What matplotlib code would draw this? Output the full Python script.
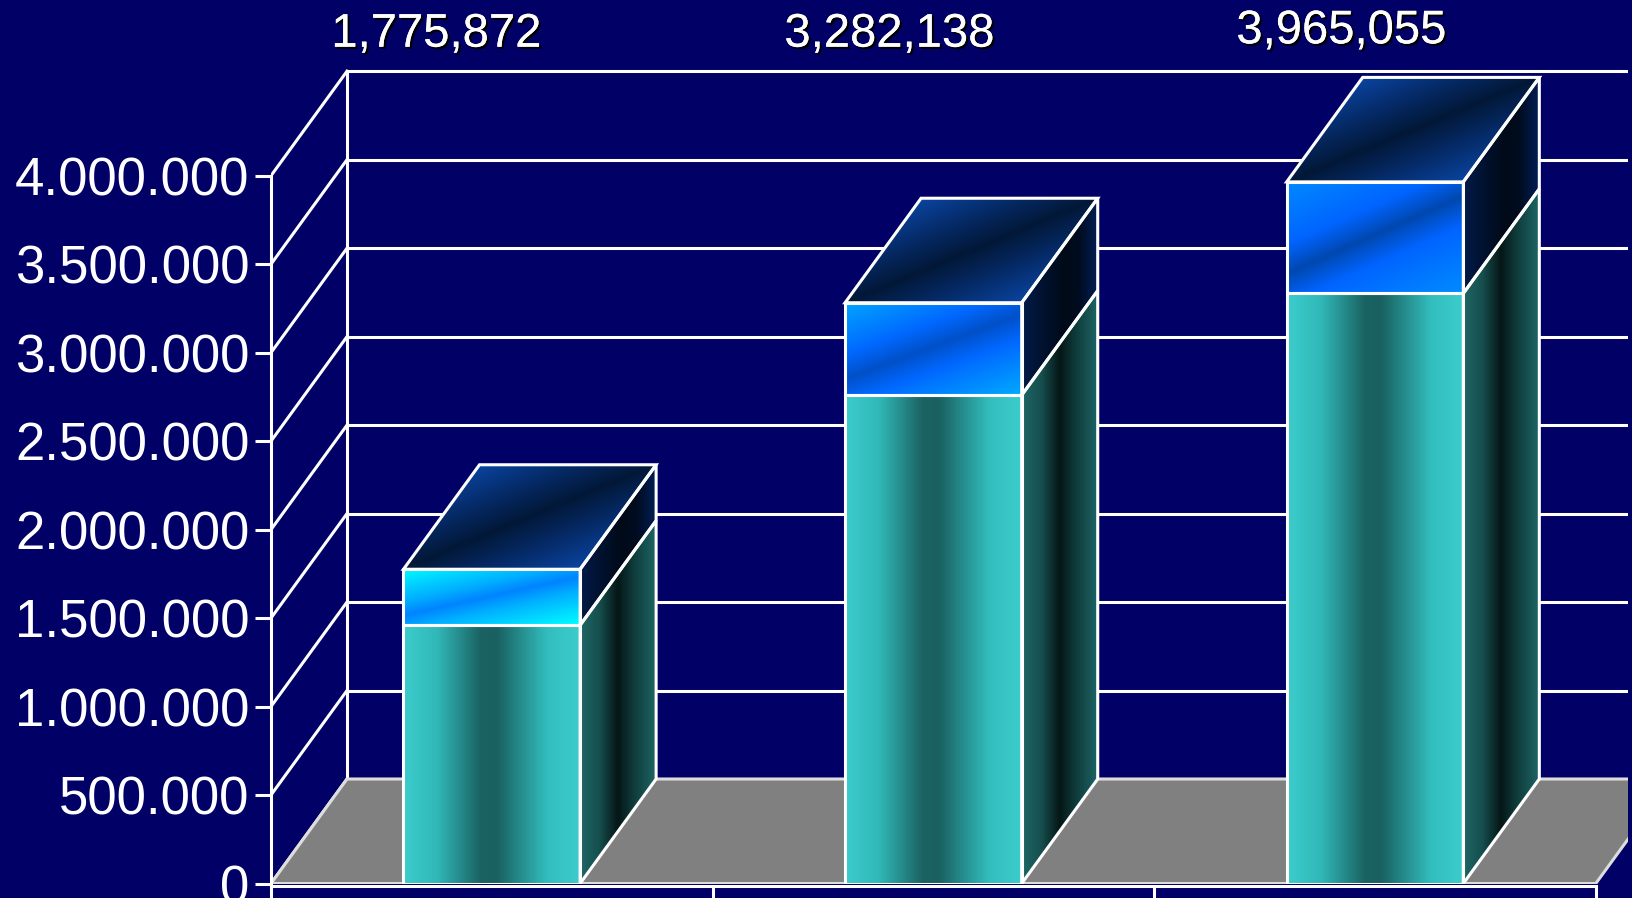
import numpy as np
import matplotlib
matplotlib.use('Agg')
import matplotlib.pyplot as plt
from matplotlib.patches import Polygon
from matplotlib.colors import LinearSegmentedColormap
import matplotlib.patheffects as pe

plt.rcParams['font.family'] = ['Liberation Sans', 'DejaVu Sans']

# data
totals = [1775872, 3282138, 3965055]
lower = [1460000, 2760000, 3335000]
yticks = np.arange(0, 4000001, 500000)

# label placement (category units / values)
label_dx = [-0.1255, -0.0994, -0.0754]
label_base = [4.729e6, 4.729e6, 4.748e6]

# per bar colours of the upper (blue) segment: band, mid, corner
upper_cols = [('#0084FF', '#00B0FF', '#00FFFF'),
              ('#0050C8', '#0068FF', '#00AAFF'),
              ('#0048B0', '#0064FF', '#008CFF')]

BG = '#000066'
W, H, DPI = 1633, 898, 100
fig = plt.figure(figsize=(W / DPI, H / DPI), dpi=DPI)
fig.patch.set_facecolor(BG)

ax_l, ax_r, ax_b = 271, 1628, 14.5
ax = fig.add_axes([ax_l / W, ax_b / H, (ax_r - ax_l) / W, 1 - ax_b / H])
ax.set_facecolor(BG)

px_x = 441.6        # px per category
px_y = 176.95e-6    # px per unit of value
xlim = (-0.5, -0.5 + (ax_r - ax_l) / px_x)
ylim = (0, (H - ax_b) / px_y)
ddx_px, ddy_px = 76.0, 104.5
dx = ddx_px / px_x
dy = ddy_px / px_y
bw = 0.4
LW = 2.2


def cmap(name, stops):
    return LinearSegmentedColormap.from_list(name, stops)


front_cm = cmap('front', [(0, '#3CCCCC'), (0.19, '#31B8B8'), (0.44, '#1B6262'),
                          (0.53, '#1A6060'), (0.82, '#33BEBE'), (1, '#3CCCCC')])
side_cm = cmap('side', [(0, '#1E6666'), (0.25, '#174F4F'), (0.5, '#051616'),
                        (0.7, '#0F3A3A'), (1, '#1E6464')])
uside_cm = cmap('uside', [(0, '#021A48'), (0.55, '#000A18'), (0.75, '#000C20'),
                          (1, '#001E55')])
cap_cm = cmap('cap', [(0, '#021838'), (0.45, '#052A66'), (1, '#0A44A0')])


def shade(verts, fn, z):
    verts = np.asarray(verts, float)
    poly = Polygon(verts, closed=True, fc='none', ec='none', zorder=z)
    ax.add_patch(poly)
    x0, x1 = verts[:, 0].min(), verts[:, 0].max()
    y0, y1 = verts[:, 1].min(), verts[:, 1].max()
    n = 220
    X, Y = np.meshgrid(np.linspace(x0, x1, n), np.linspace(y0, y1, n))
    img = fn(X, Y)
    im = ax.imshow(img, extent=(x0, x1, y0, y1), origin='lower', aspect='auto',
                   interpolation='bilinear', zorder=z)
    im.set_clip_path(poly)
    ax.add_patch(Polygon(verts, closed=True, fill=False, ec='white', lw=LW,
                         zorder=z + 0.5, joinstyle='miter'))


# back wall, left wall
xb = -0.5 + dx
ax.plot([xb, xb], [dy, yticks[-1] + dy], color='white', lw=LW, zorder=1)
for v in yticks:
    ax.plot([xb, xlim[1] + 1], [v + dy, v + dy], color='white', lw=LW, zorder=1)
    ax.plot([-0.5, xb], [v, v + dy], color='white', lw=LW, zorder=1)

# floor
ax.add_patch(Polygon([(-0.5, 0), (-0.5 + dx, dy), (2.5 + dx, dy), (2.5, 0)],
                     closed=True, fc='#808080', ec='#DDDDDD', lw=LW, zorder=2))

for i, (tot, lo) in enumerate(zip(totals, lower)):
    x0, x1 = i - bw / 2, i + bw / 2
    # front lower
    shade([(x0, 0), (x1, 0), (x1, lo), (x0, lo)],
          lambda X, Y, x0=x0, x1=x1: front_cm((X - x0) / (x1 - x0))[..., :3], 3)
    # side lower
    shade([(x1, 0), (x1 + dx, dy), (x1 + dx, lo + dy), (x1, lo)],
          lambda X, Y, x1=x1: side_cm((X - x1) / dx)[..., :3], 3)
    # front upper
    band, mid, corner = upper_cols[i]
    ucm = cmap('up%d' % i, [(0, band), (0.3, mid), (1, corner)])

    def up_fn(X, Y, x0=x0, x1=x1, lo=lo, tot=tot, ucm=ucm):
        u = (X - x0) / (x1 - x0)
        v = (Y - lo) / (tot - lo)
        s = np.abs(v - (0.17 + 0.7 * u)) / 0.87
        return ucm(np.clip(s, 0, 1))[..., :3]
    shade([(x0, lo), (x1, lo), (x1, tot), (x0, tot)], up_fn, 3)
    # side upper
    shade([(x1, lo), (x1 + dx, lo + dy), (x1 + dx, tot + dy), (x1, tot)],
          lambda X, Y, x1=x1: uside_cm((X - x1) / dx)[..., :3], 3)

    # cap
    def cap_fn(X, Y, x0=x0, x1=x1, tot=tot):
        px = (X - x0) * px_x
        py = (Y - tot) * px_y
        wx = (x1 - x0) * px_x + ddx_px
        wy = ddy_px
        L = np.hypot(wx, wy)
        norm = abs(wx * ddy_px - wy * ddx_px) / L
        s = np.abs(wx * py - wy * px) / L / norm
        return cap_cm(np.clip(s, 0, 1))[..., :3]
    shade([(x0, tot), (x0 + dx, tot + dy), (x1 + dx, tot + dy), (x1, tot)], cap_fn, 3)

    ax.text(i + label_dx[i], label_base[i], f"{tot:,}", ha='center', va='baseline',
            fontsize=34, color='white',
            path_effects=[pe.withSimplePatchShadow(offset=(1.5, -1.5),
                                                   shadow_rgbFace='black', alpha=1.0),
                          pe.Normal()])

# axes
for s in ['top', 'right']:
    ax.spines[s].set_visible(False)
ax.spines['left'].set_bounds(0, yticks[-1])
ax.spines['bottom'].set_bounds(-0.5, 2.5)
ax.spines['bottom'].set_position(('outward', 2))
for s in ['left', 'bottom']:
    ax.spines[s].set_color('white')
    ax.spines[s].set_linewidth(LW)
    ax.spines[s].set_zorder(5)

ax.set_yticks(yticks)
ax.set_yticklabels([f"{int(v):,}".replace(',', '.') for v in yticks])
ax.set_xticks([-0.5, 0.5, 1.5, 2.5])
ax.set_xticklabels([])
ax.tick_params(axis='y', colors='white', labelsize=38, length=11.5, width=LW, pad=4)
ax.tick_params(axis='x', colors='white', length=14, width=LW)

ax.set_xlim(*xlim)
ax.set_ylim(*ylim)

fig.savefig('out.png', dpi=DPI, facecolor=BG)
